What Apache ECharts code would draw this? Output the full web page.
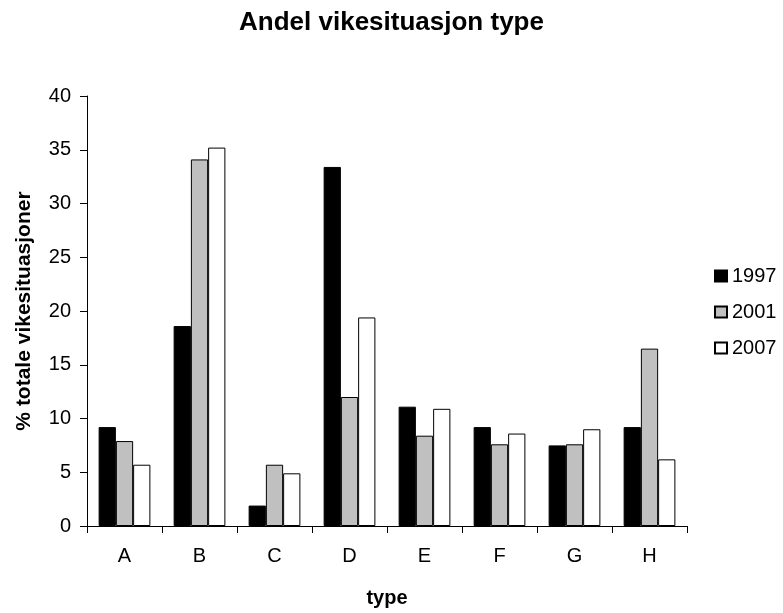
<!DOCTYPE html>
<html><head><meta charset="utf-8">
<script src="https://cdn.jsdelivr.net/npm/echarts@6/dist/echarts.min.js"></script>
<style>html,body{margin:0;padding:0;background:#fff}#c{width:783px;height:613px}</style>
</head><body><div id="c"></div>
<script>
const categories = ['A','B','C','D','E','F','G','H'];
const s1997 = [9.2, 18.6, 1.9, 33.4, 11.1, 9.2, 7.5, 9.2];
const s2001 = [7.9, 34.1, 5.7, 12.0, 8.4, 7.6, 7.6, 16.5];
const s2007 = [5.7, 35.2, 4.9, 19.4, 10.9, 8.6, 9.0, 6.2];
const yTicks = {min: 0, max: 40, interval: 5};

const font = 'Liberation Sans, Arial, sans-serif';
const chart = echarts.init(document.getElementById('c'));
function bar(name, data, color) {
  return {name, type: 'bar', data, barGap: '0%', barCategoryGap: '31%',
    itemStyle: {color, borderColor: '#000', borderWidth: 1}};
}
chart.setOption({
  animation: false,
  backgroundColor: '#fff',
  title: {text: 'Andel vikesituasjon type', left: 'center', top: 5,
    textStyle: {fontFamily: font, fontSize: 26, fontWeight: 'bold', color: '#000'}},
  legend: {orient: 'vertical', left: 709, top: 261, itemGap: 16, itemWidth: 12, itemHeight: 11,
    icon: 'rect', textStyle: {fontFamily: font, fontSize: 20, color: '#000', padding: [0,0,0,0]},
    data: ['1997','2001','2007']},
  grid: {left: 87, top: 96, width: 600, height: 431},
  xAxis: {type: 'category', data: categories, name: 'type', nameLocation: 'middle', nameGap: 62,
    nameTextStyle: {fontFamily: font, fontSize: 20, fontWeight: 'bold', color: '#000'},
    axisLine: {lineStyle: {color: '#000', width: 1}},
    axisTick: {show: true, length: 7, lineStyle: {color: '#000'}, alignWithLabel: false},
    axisLabel: {fontFamily: font, fontSize: 20, color: '#000', margin: 20}},
  yAxis: {type: 'value', min: yTicks.min, max: yTicks.max, interval: yTicks.interval,
    name: '% totale vikesituasjoner', nameLocation: 'middle', nameGap: 52,
    nameTextStyle: {fontFamily: font, fontSize: 21, fontWeight: 'bold', color: '#000'},
    axisLine: {show: true, lineStyle: {color: '#000', width: 1}},
    axisTick: {show: true, length: 7, lineStyle: {color: '#000'}},
    splitLine: {show: false},
    axisLabel: {fontFamily: font, fontSize: 20, color: '#000', margin: 16}},
  series: [bar('1997', s1997, '#000000'), bar('2001', s2001, '#c0c0c0'), bar('2007', s2007, '#ffffff')]
});
</script></body></html>
